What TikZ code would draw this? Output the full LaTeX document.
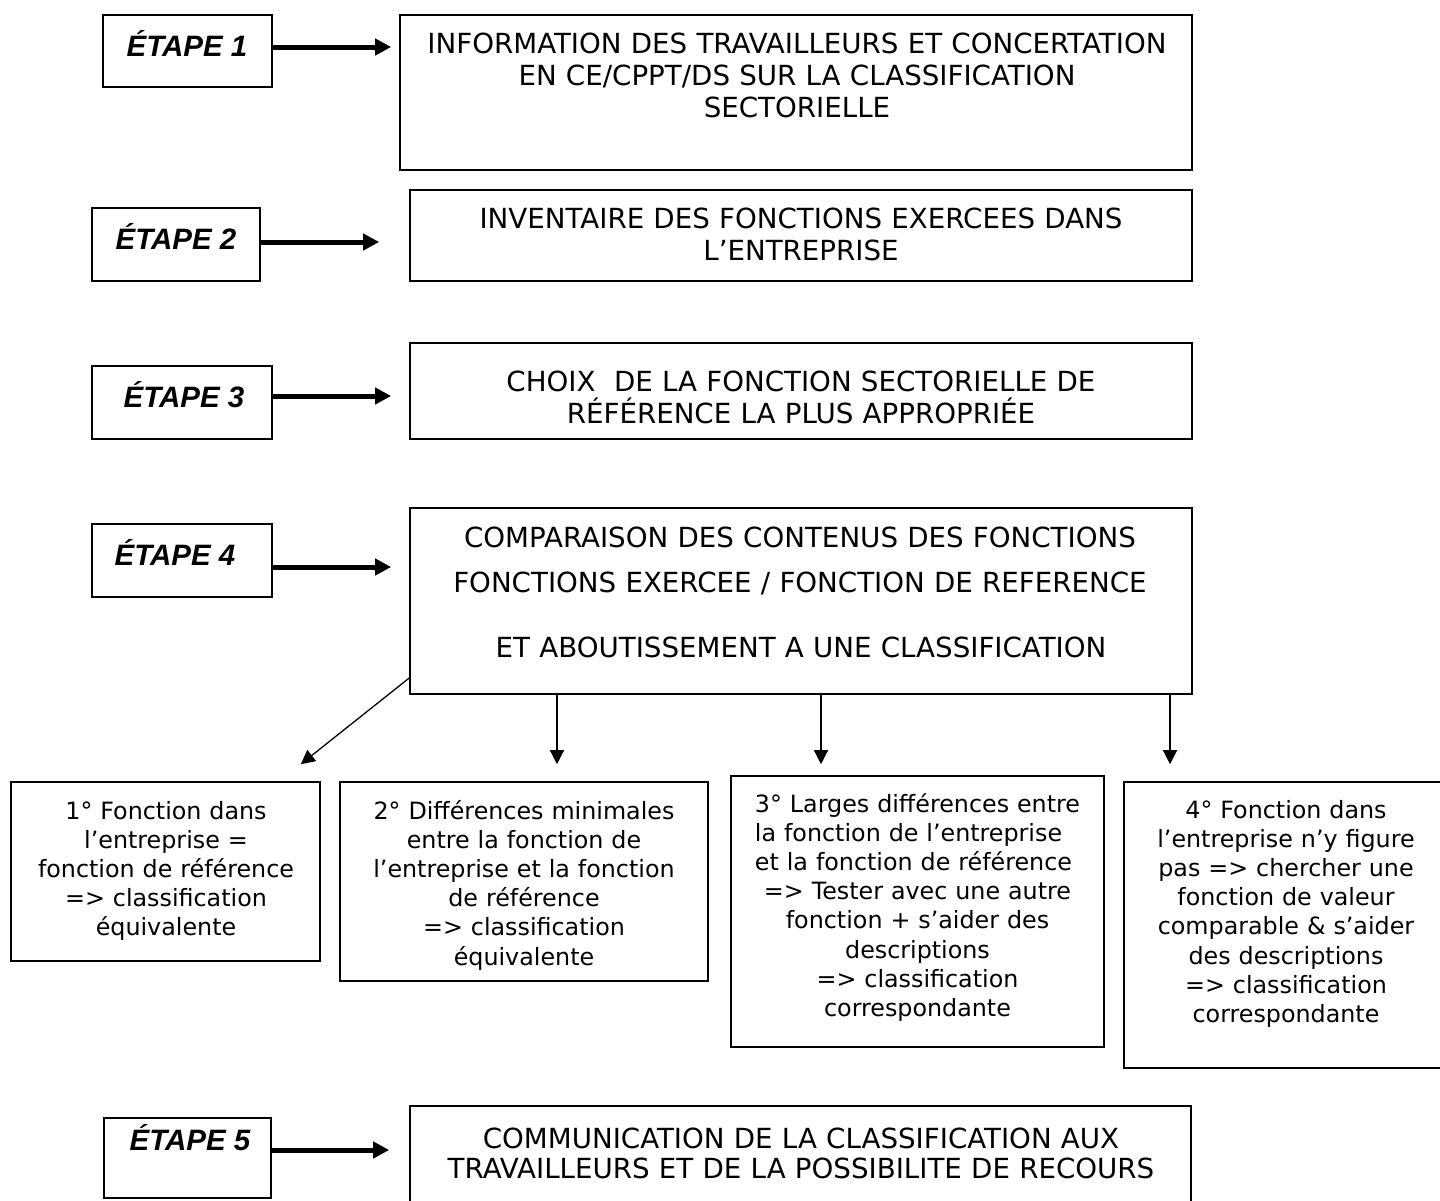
\documentclass[tikz,border=0pt]{standalone}
\usepackage{fontspec}
\setmainfont{DejaVu Sans}
\newfontfamily\etapefont{Liberation Sans}
\usetikzlibrary{arrows.meta,calc}
\newlength{\lineonelen}
\begin{document}
\begin{tikzpicture}[x=1pt,y=-1pt,
  box/.style={draw, line width=1.6pt, inner sep=0pt},
  etape/.style={font=\etapefont\bfseries\itshape\fontsize{29.5}{34}\selectfont, anchor=base, inner sep=0pt},
  caps/.style={font=\fontsize{27.7}{32}\selectfont, anchor=base, align=center, text width=790pt, inner sep=0pt},
  small/.style={font=\fontsize{23.8}{29.2}\selectfont, anchor=base, align=center, text width=380pt, inner sep=0pt},
  bigarrow/.style={line width=5pt, -{Triangle[length=16pt,width=16pt]}},
  thinarrow/.style={line width=1.3pt, -{Triangle[length=14pt,width=14pt]}}
]
\useasboundingbox (0,0) rectangle (1440,1200);
\fill[white] (0,0) rectangle (1440,1200);

% step boxes
\node[box, minimum width=169pt, minimum height=72pt] (E1) at (187.5,51) {};
\node[box, minimum width=168pt, minimum height=73pt] (E2) at (176,244.5) {};
\node[box, minimum width=180pt, minimum height=73pt] (E3) at (182,402.5) {};
\node[box, minimum width=180pt, minimum height=73pt] (E4) at (182,560.5) {};
\node[box, minimum width=167pt, minimum height=80pt] (E5) at (187.5,1158) {};

\node[etape] (E1t) at (187,56) {ÉTAPE 1};
\node[etape] (E2t) at (176,249) {ÉTAPE 2};
\node[etape] (E3t) at (184,407) {ÉTAPE 3};
\node[etape] (E4t) at (175,565) {ÉTAPE 4};
\node[etape] (E5t) at (190,1150) {ÉTAPE 5};

% main boxes
\node[box, minimum width=792pt, minimum height=155pt] (B1) at (796,92.5) {};
\node[box, minimum width=782pt, minimum height=91pt] (B2) at (801,235.5) {};
\node[box, minimum width=782pt, minimum height=96pt] (B3) at (801,391) {};
\node[box, minimum width=782pt, minimum height=186pt] (B4) at (801,601) {};
\node[box, minimum width=781pt, minimum height=109pt] (B5) at (800.5,1160.5) {};

\node[caps] (B1t) at (797,53) {INFORMATION DES TRAVAILLEURS ET CONCERTATION\\EN CE/CPPT/DS SUR LA CLASSIFICATION\\SECTORIELLE};
\node[caps] (B2t) at (801,228) {INVENTAIRE DES FONCTIONS EXERCEES DANS\\L’ENTREPRISE};
\node[caps] (B3t) at (801,391) {CHOIX\ \ DE LA FONCTION SECTORIELLE DE\\RÉFÉRENCE LA PLUS APPROPRIÉE};
\node[caps] (B4a) at (800,547) {COMPARAISON DES CONTENUS DES FONCTIONS};
\node[caps] (B4b) at (800,592) {FONCTIONS EXERCEE / FONCTION DE REFERENCE};
\node[caps] (B4c) at (801,657) {ET ABOUTISSEMENT A UNE CLASSIFICATION};
\node[caps, font=\fontsize{27.7}{30}\selectfont] (B5t) at (801,1148) {COMMUNICATION DE LA CLASSIFICATION AUX\\TRAVAILLEURS ET DE LA POSSIBILITE DE RECOURS};

% outcome boxes
\node[box, minimum width=309pt, minimum height=179pt] (b1) at (165.5,871.5) {};
\node[box, minimum width=368pt, minimum height=199pt] (b2) at (524,881.5) {};
\node[box, minimum width=373pt, minimum height=271pt] (b3) at (917.5,911.5) {};
\node[box, minimum width=321pt, minimum height=286pt] (b4) at (1284.5,925) {};

\node[small] (b1t) at (166,819) {1° Fonction dans\\l’entreprise =\\fonction de référence\\=> classification\\équivalente};
\node[small] (b2t) at (524,819) {2° Différences minimales\\entre la fonction de\\l’entreprise et la fonction\\de référence\\=> classification\\équivalente};
\node[small] (b3t) at (917.5,812) {\settowidth{\lineonelen}{3° Larges différences entre}3° Larges différences entre\\\makebox[\lineonelen][l]{la fonction de l’entreprise}\\\makebox[\lineonelen][l]{et la fonction de référence}\\=> Tester avec une autre\\fonction + s’aider des\\descriptions\\=> classification\\correspondante};
\node[small] (b4t) at (1286,818) {4° Fonction dans\\l’entreprise n’y figure\\pas => chercher une\\fonction de valeur\\comparable \& s’aider\\des descriptions\\=> classification\\correspondante};

% helper levels
\coordinate (y1) at (0,47);
\coordinate (y2) at (0,242);
\coordinate (y3) at (0,396);
\coordinate (y4) at (0,567);
\coordinate (y5) at (0,1150);
\coordinate (yd) at (0,678);
\coordinate (x2) at (557,0);
\coordinate (x3) at (821,0);
\coordinate (x4) at (1170,0);

% thick arrows
\draw[bigarrow, shorten >=8pt] (E1.east |- y1) -- (B1.west |- y1);
\draw[bigarrow, shorten >=30pt] (E2.east |- y2) -- (B2.west |- y2);
\draw[bigarrow, shorten >=18pt] (E3.east |- y3) -- (B3.west |- y3);
\draw[bigarrow, shorten >=18pt] (E4.east |- y4) -- (B4.west |- y4);
\draw[bigarrow, shorten >=20pt] (E5.east |- y5) -- (B5.west |- y5);

% thin arrows
\draw[thinarrow] (B4.west |- yd) -- ($(b1.north east)+(-20,-17)$);
\draw[thinarrow, shorten >=17pt] (B4.south -| x2) -- (b2.north -| x2);
\draw[thinarrow, shorten >=11pt] (B4.south -| x3) -- (b3.north -| x3);
\draw[thinarrow, shorten >=17pt] (B4.south -| x4) -- (b4.north -| x4);
\end{tikzpicture}
\end{document}
